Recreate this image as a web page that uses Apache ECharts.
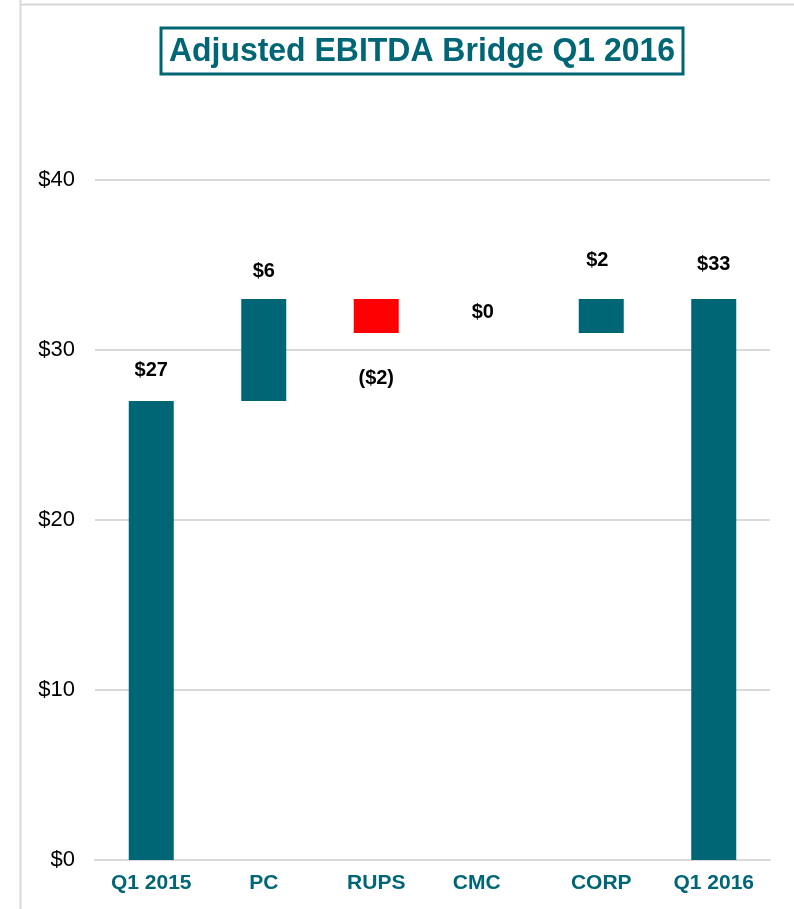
<!DOCTYPE html>
<html>
<head>
<meta charset="utf-8">
<script src="https://cdn.jsdelivr.net/npm/echarts@6/dist/echarts.min.js"></script>
<style>
html,body{margin:0;padding:0;background:#fff;}
#chart{width:794px;height:909px;}
</style>
</head>
<body>
<div id="chart"></div>
<script>
var categories = ['Q1 2015', 'PC', 'RUPS', 'CMC', 'CORP', 'Q1 2016'];
var deltas = [27, 6, -2, 0, 2, 33];
var isTotal = [true, false, false, false, false, true];
var valueLabels = ['$27', '$6', '($2)', '$0', '$2', '$33'];
var yTicks = ['$0', '$10', '$20', '$30', '$40'];

var TEAL = '#006675';
var labelDist = [21, 18, 35, 11, 29, 25];
var labelShiftX = [0, 0, 0, -6, -4, 0];

var base = [], heights = [], running = 0;
for (var i = 0; i < deltas.length; i++) {
  var d = deltas[i];
  if (isTotal[i]) { base.push(0); heights.push(d); running = d; }
  else if (d >= 0) { base.push(running); heights.push(d); running += d; }
  else { running += d; base.push(running); heights.push(-d); }
}

var valueData = heights.map(function (h, i) {
  var neg = deltas[i] < 0;
  return {
    value: h,
    itemStyle: { color: neg ? '#FF0000' : TEAL },
    label: {
      show: true,
      position: neg ? 'bottom' : 'top',
      distance: labelDist[i],
      offset: [labelShiftX[i], 0],
      formatter: valueLabels[i]
    }
  };
});

var catData = categories.map(function (c) {
  return c === 'CMC' ? { value: c, textStyle: { padding: [0, 24, 0, 0] } } : c;
});

var chart = echarts.init(document.getElementById('chart'));
chart.setOption({
  animation: false,
  backgroundColor: '#fff',
  graphic: [
    { type: 'line', shape: { x1: 20.5, y1: 0, x2: 20.5, y2: 909 }, style: { stroke: '#d9d9d9', lineWidth: 2 } },
    { type: 'line', shape: { x1: 20, y1: 4.5, x2: 794, y2: 4.5 }, style: { stroke: '#d9d9d9', lineWidth: 2 } },
    { type: 'rect', shape: { x: 161, y: 28, width: 522, height: 46 }, style: { fill: '#fff', stroke: TEAL, lineWidth: 3 } },
    { type: 'text', x: 422, y: 52, scaleX: 0.94, style: { text: 'Adjusted EBITDA Bridge Q1 2016', fill: TEAL, font: 'bold 34px "Liberation Sans", Arial, sans-serif', align: 'center', verticalAlign: 'middle' } }
  ],
  grid: { left: 95, right: 24, top: 180, bottom: 49, containLabel: false },
  xAxis: {
    type: 'category',
    data: catData,
    axisLine: { lineStyle: { color: '#d9d9d9', width: 2 } },
    axisTick: { show: false },
    axisLabel: { color: TEAL, fontWeight: 'bold', fontSize: 21, fontFamily: 'Liberation Sans', margin: 13, interval: 0 }
  },
  yAxis: {
    type: 'value',
    min: 0, max: 40, interval: 10,
    axisLine: { show: false },
    axisTick: { show: false },
    splitLine: { lineStyle: { color: '#d9d9d9', width: 2 } },
    axisLabel: {
      color: '#000', fontSize: 22, fontFamily: 'Liberation Sans', margin: 20,
      formatter: function (v) { return yTicks[Math.round(v / 10)]; }
    }
  },
  series: [
    {
      type: 'bar', stack: 'w', data: base, barWidth: '40%',
      itemStyle: { color: 'transparent' }, silent: true
    },
    {
      type: 'bar', stack: 'w', data: valueData, barWidth: '40%',
      label: { color: '#000', fontWeight: 'bold', fontSize: 20, fontFamily: 'Liberation Sans' }
    }
  ]
});
</script>
</body>
</html>
